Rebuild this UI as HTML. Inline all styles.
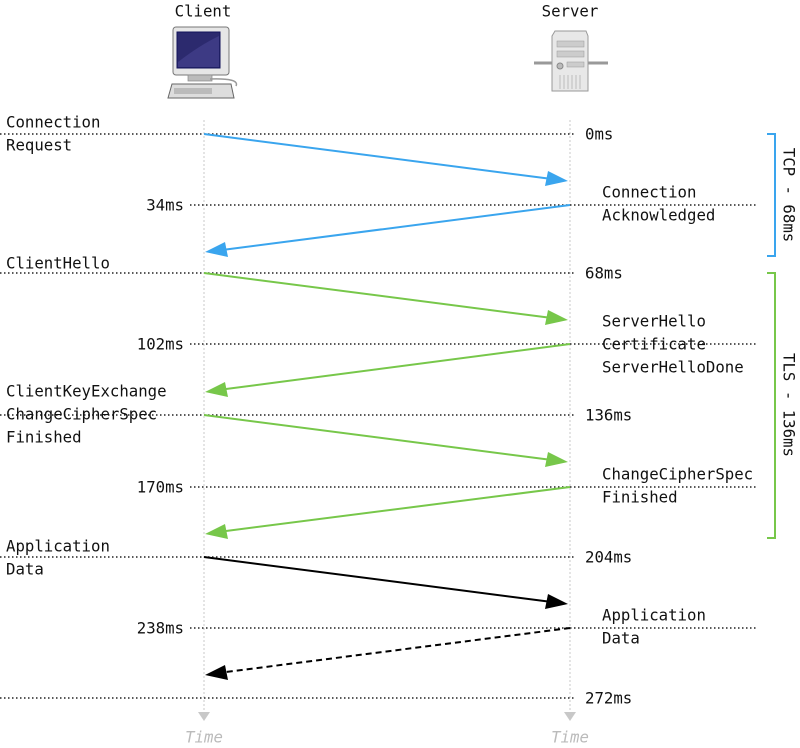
<!DOCTYPE html>
<html><head><meta charset="utf-8"><style>
html,body{margin:0;padding:0;background:#fff;}
svg{display:block;}
text{font-family:"DejaVu Sans Mono","Liberation Mono",monospace;font-size:15.7px;fill:#111;dominant-baseline:central;}
</style></head><body>
<svg width="800" height="748" viewBox="0 0 800 748" xmlns="http://www.w3.org/2000/svg">
<!-- headers -->
<text x="203" y="11" text-anchor="middle">Client</text>
<text x="570" y="11" text-anchor="middle">Server</text>
<!-- client icon -->
<g>
<rect x="173" y="27" width="56" height="48" rx="3" fill="#e6e6e6" stroke="#777" stroke-width="1"/>
<rect x="177" y="32" width="43" height="36" fill="#2c2a6e" stroke="#11115a"/>
<path d="M178,62 Q200,45 219,36 L219,67 L178,67z" fill="#3d3a84"/>
<rect x="188" y="75" width="24" height="6" fill="#bbb" stroke="#888" stroke-width=".7"/>
<path d="M210,79 Q240,78 236,86" stroke="#999" fill="none" stroke-width="1.5"/>
<path d="M172,84 L231,84 L234,98 L168,98 z" fill="#ddd" stroke="#666"/>
<rect x="174" y="88" width="38" height="6" fill="#bbb"/>
</g>
<!-- server icon -->
<g>
<line x1="534" y1="63" x2="608" y2="63" stroke="#999" stroke-width="3"/>
<path d="M555,31 L586,31 L588,36 L588,91 L552,91 L552,36 z" fill="#e8e8e8" stroke="#999"/>
<rect x="557" y="41" width="27" height="6" fill="#ccc" stroke="#999" stroke-width=".5"/>
<rect x="557" y="51" width="27" height="6" fill="#ccc" stroke="#999" stroke-width=".5"/>
<rect x="567" y="62" width="17" height="5" fill="#ccc" stroke="#999" stroke-width=".5"/>
<circle cx="560" cy="66" r="3" fill="#bbb" stroke="#888"/>
<g stroke="#bbb" stroke-width="1"><line x1="560" y1="75" x2="560" y2="89"/><line x1="564" y1="75" x2="564" y2="89"/><line x1="568" y1="75" x2="568" y2="89"/><line x1="572" y1="75" x2="572" y2="89"/><line x1="576" y1="75" x2="576" y2="89"/><line x1="580" y1="75" x2="580" y2="89"/></g>
</g>
<!-- vertical lifelines -->
<g stroke="#c8c8c8" stroke-width="1" stroke-dasharray="2,2">
<line x1="204" y1="120" x2="204" y2="712"/>
<line x1="570" y1="120" x2="570" y2="712"/>
</g>
<polygon points="198,712 210,712 204,721" fill="#c8c8c8"/>
<polygon points="564,712 576,712 570,721" fill="#c8c8c8"/>
<text x="204" y="737" text-anchor="middle" style="fill:#bbb;font-style:italic">Time</text>
<text x="570" y="737" text-anchor="middle" style="fill:#bbb;font-style:italic">Time</text>
<!-- horizontal dotted lines -->
<g stroke="#222" stroke-width="1.5" stroke-dasharray="1.5,2.5">
<line x1="0" y1="134" x2="575" y2="134"/>
<line x1="190" y1="205" x2="758" y2="205"/>
<line x1="0" y1="273" x2="575" y2="273"/>
<line x1="190" y1="344" x2="758" y2="344"/>
<line x1="0" y1="415" x2="575" y2="415"/>
<line x1="190" y1="487" x2="758" y2="487"/>
<line x1="0" y1="557" x2="575" y2="557"/>
<line x1="190" y1="628" x2="758" y2="628"/>
<line x1="0" y1="698" x2="575" y2="698"/>
</g>
<!-- time labels -->
<text x="585" y="134">0ms</text>
<text x="184" y="205" text-anchor="end">34ms</text>
<text x="585" y="273">68ms</text>
<text x="184" y="344" text-anchor="end">102ms</text>
<text x="585" y="415">136ms</text>
<text x="184" y="487" text-anchor="end">170ms</text>
<text x="585" y="557">204ms</text>
<text x="184" y="628" text-anchor="end">238ms</text>
<text x="585" y="698">272ms</text>
<!-- left labels -->
<text x="6" y="122">Connection</text><text x="6" y="145">Request</text>
<text x="6" y="263">ClientHello</text>
<text x="6" y="391">ClientKeyExchange</text><text x="6" y="414">ChangeCipherSpec</text><text x="6" y="437">Finished</text>
<text x="6" y="546">Application</text><text x="6" y="569">Data</text>
<!-- right labels -->
<text x="602" y="192">Connection</text><text x="602" y="215">Acknowledged</text>
<text x="602" y="321">ServerHello</text><text x="602" y="344">Certificate</text><text x="602" y="367">ServerHelloDone</text>
<text x="602" y="474">ChangeCipherSpec</text><text x="602" y="497">Finished</text>
<text x="602" y="615">Application</text><text x="602" y="638">Data</text>
<!-- arrows -->
<g stroke-width="2" fill="none">
<line x1="204" y1="134" x2="548" y2="178.5" stroke="#3aa5ee"/>
<line x1="570" y1="205" x2="226" y2="249.5" stroke="#3aa5ee"/>
<line x1="204" y1="273" x2="548" y2="317.5" stroke="#77c74a"/>
<line x1="570" y1="344" x2="226" y2="389" stroke="#77c74a"/>
<line x1="204" y1="415" x2="548" y2="459.5" stroke="#77c74a"/>
<line x1="570" y1="487" x2="226" y2="531" stroke="#77c74a"/>
<line x1="204" y1="557" x2="548" y2="601.5" stroke="#000"/>
<line x1="570" y1="628" x2="226" y2="672" stroke="#000" stroke-dasharray="6,4"/>
</g>
<polygon points="568,181 545,186 548,171" fill="#3aa5ee"/>
<polygon points="205,252 228,257 225,242" fill="#3aa5ee"/>
<polygon points="568,320 545,325 548,310" fill="#77c74a"/>
<polygon points="205,392 228,397 225,382" fill="#77c74a"/>
<polygon points="568,462 545,467 548,452" fill="#77c74a"/>
<polygon points="205,534 228,539 225,524" fill="#77c74a"/>
<polygon points="568,604 545,609 548,594" fill="#000"/>
<polygon points="205,675 228,680 225,665" fill="#000"/>
<!-- brackets -->
<path d="M767,134 L775,134 L775,256 L767,256" stroke="#3aa5ee" stroke-width="2" fill="none"/>
<path d="M767,273 L775,273 L775,538 L767,538" stroke="#77c74a" stroke-width="2" fill="none"/>
<text x="789" y="195" text-anchor="middle" transform="rotate(90 789 195)">TCP - 68ms</text>
<text x="789" y="405" text-anchor="middle" transform="rotate(90 789 405)">TLS - 136ms</text>
</svg>
</body></html>
